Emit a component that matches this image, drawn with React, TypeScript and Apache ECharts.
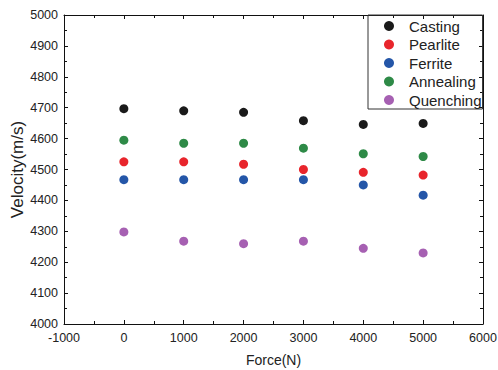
import React, { useEffect, useRef } from "react";
import * as echarts from "echarts";

const forces = [0, 1000, 2000, 3000, 4000, 5000];
const casting = [4697, 4690, 4685, 4658, 4646, 4649];
const pearlite = [4525, 4525, 4517, 4500, 4491, 4482];
const ferrite = [4467, 4467, 4467, 4467, 4450, 4417];
const annealing = [4595, 4585, 4585, 4569, 4551, 4542];
const quenching = [4298, 4268, 4260, 4268, 4245, 4230];

const seriesNames = ["Casting", "Pearlite", "Ferrite", "Annealing", "Quenching"];
const seriesValues = [casting, pearlite, ferrite, annealing, quenching];
const seriesColors = ["#1a1a1a", "#e8252c", "#2456a8", "#2e8a47", "#a660b2"];

export default function App() {
  const ref = useRef<HTMLDivElement>(null);
  useEffect(() => {
    const chart = echarts.init(ref.current!, null, { renderer: "svg" });
    const font = "Liberation Sans, Arial, sans-serif";
    const axisLine = { show: true, onZero: false, lineStyle: { color: "#111", width: 1 } };
    const tickStyle = { lineStyle: { color: "#111", width: 1 } };
    const labelStyle = { color: "#222", fontSize: 12.5, fontFamily: font, formatter: (v: number) => String(v) };
    chart.setOption({
      animation: false,
      backgroundColor: "#fff",
      grid: { left: 64, right: 15, top: 15, bottom: 46, containLabel: false, outerBoundsMode: "none" },
      legend: {
        orient: "vertical",
        left: 368,
        top: 15,
        borderColor: "#333",
        borderWidth: 1,
        borderRadius: 0,
        padding: [2, 1, 0, 16],
        itemGap: 0.5,
        itemWidth: 10,
        itemHeight: 10,
        icon: "circle",
        data: seriesNames,
        textStyle: { color: "#222", fontSize: 15, fontFamily: font, padding: [0, 0, 0, 10], lineHeight: 18 },
      },
      xAxis: [
        {
          type: "value",
          min: -1000,
          max: 6000,
          interval: 1000,
          position: "bottom",
          name: "Force(N)",
          nameLocation: "middle",
          nameGap: 29,
          nameMoveOverlap: false,
          nameTextStyle: { color: "#222", fontSize: 14, fontFamily: font },
          axisLine,
          axisTick: { show: true, inside: true, length: 4, ...tickStyle },
          minorTick: { show: true, splitNumber: 2, length: 3, lineStyle: { color: "#111" } },
          axisLabel: { ...labelStyle, margin: 7 },
          splitLine: { show: false },
        },
        {
          type: "value",
          min: -1000,
          max: 6000,
          interval: 1000,
          position: "top",
          axisLine,
          axisTick: { show: true, inside: true, length: 4, ...tickStyle },
          minorTick: { show: true, splitNumber: 2, length: 3, lineStyle: { color: "#111" } },
          axisLabel: { show: false },
          splitLine: { show: false },
        },
      ],
      yAxis: [
        {
          type: "value",
          min: 4000,
          max: 5000,
          interval: 100,
          position: "left",
          name: "Velocity(m/s)",
          nameLocation: "middle",
          nameGap: 38,
          nameMoveOverlap: false,
          nameTextStyle: { color: "#222", fontSize: 17, fontFamily: font },
          axisLine,
          axisTick: { show: true, inside: true, length: 4, ...tickStyle },
          minorTick: { show: true, splitNumber: 2, length: 3, lineStyle: { color: "#111" } },
          axisLabel: { ...labelStyle, margin: 6 },
          splitLine: { show: false },
        },
        {
          type: "value",
          min: 4000,
          max: 5000,
          interval: 100,
          position: "right",
          axisLine,
          axisTick: { show: true, inside: true, length: 4, ...tickStyle },
          minorTick: { show: true, splitNumber: 2, length: 3, lineStyle: { color: "#111" } },
          axisLabel: { show: false },
          splitLine: { show: false },
        },
      ],
      series: seriesNames.map((name, i) => ({
        name,
        type: "scatter",
        xAxisIndex: 0,
        yAxisIndex: 0,
        symbol: "circle",
        symbolSize: 9,
        itemStyle: { color: seriesColors[i], opacity: 1 },
        data: forces.map((f, j) => [f, seriesValues[i][j]]),
      })),
    });
    return () => chart.dispose();
  }, []);
  return <div ref={ref} style={{ width: 498, height: 370, position: "absolute", left: 0, top: 0 }} />;
}
